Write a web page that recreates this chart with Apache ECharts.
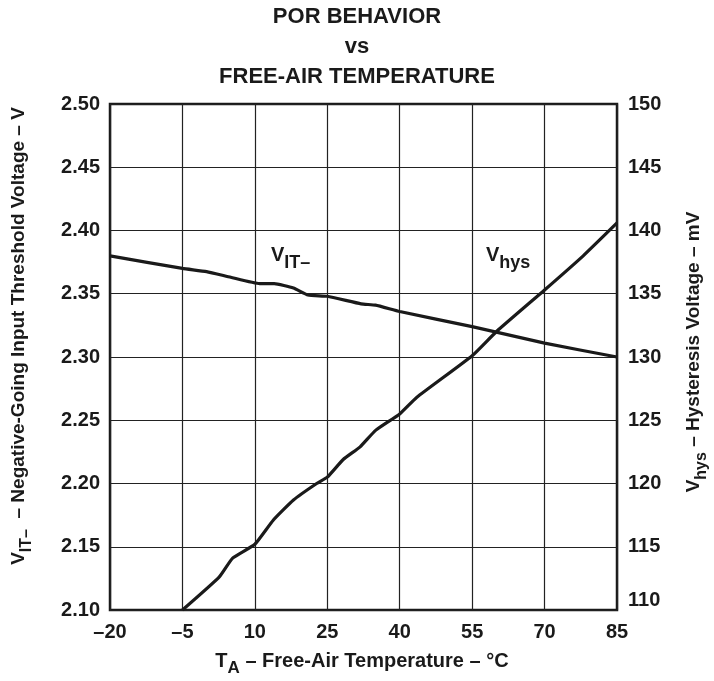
<!DOCTYPE html>
<html>
<head>
<meta charset="utf-8">
<script src="https://cdn.jsdelivr.net/npm/echarts@6/dist/echarts.min.js"></script>
<style>
  html, body { margin: 0; padding: 0; background: #fff; }
  #chart { width: 714px; height: 681px; }
</style>
</head>
<body>
<div id="chart"></div>
<script>
// ---- data ----
const xTicks = [-20, -5, 10, 25, 40, 55, 70, 85];
const vitTemp = [-20, -5, 0, 5, 11, 14, 18, 21, 25, 32, 35, 40, 55, 70, 85];
const vitVolt = [2.380, 2.370, 2.3675, 2.363, 2.358, 2.358, 2.3545, 2.349, 2.348, 2.342, 2.341, 2.336, 2.324, 2.311, 2.300];
const hysTemp = [-5, 2.6, 5.4, 10, 13.8, 18, 22.8, 25, 28.3, 31.8, 35, 40, 43.5, 55, 60, 70, 78, 85];
const hysMv = [110, 112.6, 114.1, 115.2, 117.1, 118.7, 120.0, 120.5, 121.9, 122.9, 124.2, 125.5, 126.8, 130.1, 132.0, 135.3, 138.0, 140.6];

const FONT = '"Liberation Sans", Arial, sans-serif';
const INK = '#1a1a1a';

const chart = echarts.init(document.getElementById('chart'), null, { renderer: 'canvas' });

const vitData = vitTemp.map((t, i) => [t, vitVolt[i]]);
const hysData = hysTemp.map((t, i) => [t, hysMv[i]]);

const option = {
  animation: false,
  backgroundColor: '#fff',
  textStyle: { fontFamily: FONT },
  grid: {
    left: 110, right: 97, top: 104, bottom: 71,
    show: true, borderColor: INK, borderWidth: 2.5, backgroundColor: 'transparent'
  },
  xAxis: {
    type: 'value', min: -20, max: 85, interval: 15,
    axisLine: { show: false }, axisTick: { show: false },
    splitLine: { show: true, lineStyle: { color: '#222', width: 1.2 } },
    axisLabel: {
      margin: 12, color: INK, fontFamily: FONT, fontWeight: 'bold', fontSize: 20,
      formatter: v => String(v).replace('-', '\u2013')
    }
  },
  yAxis: [
    {
      type: 'value', min: 2.10, max: 2.50, interval: 0.05,
      axisLine: { show: false }, axisTick: { show: false },
      splitLine: { show: true, lineStyle: { color: '#222', width: 1.2 } },
      axisLabel: {
        margin: 10, color: INK, fontFamily: FONT, fontWeight: 'bold', fontSize: 20,
        formatter: v => v.toFixed(2)
      }
    },
    {
      type: 'value', min: 110, max: 150, interval: 5, position: 'right',
      axisLine: { show: false }, axisTick: { show: false },
      splitLine: { show: false },
      axisLabel: {
        margin: 11, color: INK, fontFamily: FONT, fontWeight: 'bold', fontSize: 20,
        formatter: v => (Math.round(v) === 110 ? '{lo|110}' : String(Math.round(v))),
        rich: { lo: { fontFamily: FONT, fontWeight: 'bold', fontSize: 20, color: INK, padding: [0, 0, 20, 0] } }
      }
    }
  ],
  series: [
    {
      name: 'VIT', type: 'line', yAxisIndex: 0, data: vitData,
      showSymbol: false, smooth: 0.15,
      lineStyle: { color: INK, width: 3.2 }
    },
    {
      name: 'Vhys', type: 'line', yAxisIndex: 1, data: hysData,
      showSymbol: false, smooth: 0.15,
      lineStyle: { color: INK, width: 3.2 }
    }
  ],
  graphic: [
    {
      type: 'text', left: 'center', top: 2, z: 10,
      style: {
        text: 'POR BEHAVIOR\nvs\nFREE-AIR TEMPERATURE',
        font: 'bold 22px ' + FONT, fill: INK, textAlign: 'center', lineHeight: 30
      }
    },
    {
      type: 'text', x: 362, y: 664, z: 10,
      style: {
        text: '{v|T}{s|A}{n| \u2013 Free-Air Temperature \u2013 °C}',
        textAlign: 'center', textVerticalAlign: 'middle',
        rich: {
          v: { font: 'bold 20px ' + FONT, fill: INK, verticalAlign: 'top', lineHeight: 26 },
          s: { font: 'bold 17px ' + FONT, fill: INK, verticalAlign: 'bottom', lineHeight: 26 },
          n: { font: 'bold 20px ' + FONT, fill: INK, verticalAlign: 'top', lineHeight: 26 }
        }
      }
    },
    {
      type: 'text', x: 22, y: 336, rotation: Math.PI / 2, z: 10,
      style: {
        text: '{v|V}{s|IT\u2013}{n|  \u2013 Negative-Going Input Threshold Voltage \u2013 V}',
        textAlign: 'center', textVerticalAlign: 'middle',
        rich: {
          v: { font: 'bold 19px ' + FONT, fill: INK, verticalAlign: 'top', lineHeight: 26 },
          s: { font: 'bold 16px ' + FONT, fill: INK, verticalAlign: 'bottom', lineHeight: 26 },
          n: { font: 'bold 19px ' + FONT, fill: INK, verticalAlign: 'top', lineHeight: 26 }
        }
      }
    },
    {
      type: 'text', x: 697, y: 352, rotation: Math.PI / 2, z: 10,
      style: {
        text: '{v|V}{s|hys}{n| \u2013 Hysteresis Voltage \u2013 mV}',
        textAlign: 'center', textVerticalAlign: 'middle',
        rich: {
          v: { font: 'bold 19px ' + FONT, fill: INK, verticalAlign: 'top', lineHeight: 26 },
          s: { font: 'bold 16px ' + FONT, fill: INK, verticalAlign: 'bottom', lineHeight: 26 },
          n: { font: 'bold 19px ' + FONT, fill: INK, verticalAlign: 'top', lineHeight: 26 }
        }
      }
    },
    {
      type: 'text', x: 271, y: 245, z: 10,
      style: {
        text: '{v|V}{s|IT\u2013}',
        textAlign: 'left', textVerticalAlign: 'top',
        rich: {
          v: { font: 'bold 20px ' + FONT, fill: INK, verticalAlign: 'top', lineHeight: 27 },
          s: { font: 'bold 18px ' + FONT, fill: INK, verticalAlign: 'bottom', lineHeight: 27 }
        }
      }
    },
    {
      type: 'text', x: 486, y: 245, z: 10,
      style: {
        text: '{v|V}{s|hys}',
        textAlign: 'left', textVerticalAlign: 'top',
        rich: {
          v: { font: 'bold 20px ' + FONT, fill: INK, verticalAlign: 'top', lineHeight: 27 },
          s: { font: 'bold 18px ' + FONT, fill: INK, verticalAlign: 'bottom', lineHeight: 27 }
        }
      }
    }
  ]
};

chart.setOption(option);
</script>
</body>
</html>
